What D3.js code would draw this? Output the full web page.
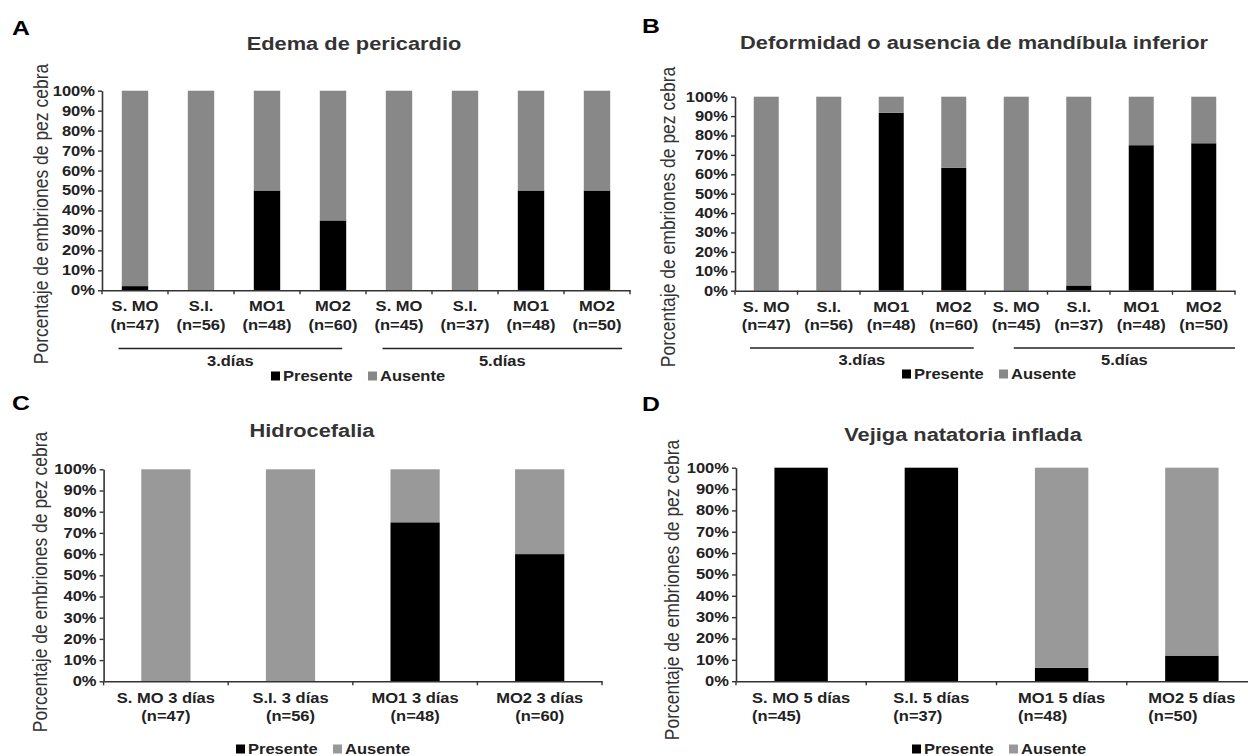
<!DOCTYPE html>
<html>
<head>
<meta charset="utf-8">
<script src="https://cdn.jsdelivr.net/npm/d3@7"></script>
<style>
body { margin: 0; background: #fff; }
svg { display: block; font-family: "Liberation Sans", Arial, sans-serif; }
</style>
</head>
<body>
<div id="chart"></div>
<script>
// ---- data (percent of embryos) ----
const catsAB = ["S. MO", "S.I.", "MO1", "MO2", "S. MO", "S.I.", "MO1", "MO2"];
const nA = [47, 56, 48, 60, 45, 37, 48, 50];
const nB = [47, 56, 48, 60, 45, 37, 48, 50];
const presenteA = [2.1, 0, 50, 35, 0, 0, 50, 50];
const presenteB = [0, 0, 91.7, 63.3, 0, 2.7, 75, 76];

const catsC = ["S. MO 3 días", "S.I. 3 días", "MO1 3 días", "MO2 3 días"];
const nC = [47, 56, 48, 60];
const presenteC = [0, 0, 75, 60];

const catsD = ["S. MO 5 días", "S.I. 5 días", "MO1 5 días", "MO2 5 días"];
const nD = [45, 37, 48, 50];
const presenteD = [100, 100, 6.3, 12];

const dayGroups = ["3.días", "5.días"];
const seriesKeys = ["Presente", "Ausente"];
const yTicks = [0, 10, 20, 30, 40, 50, 60, 70, 80, 90, 100];
const yLabel = "Porcentaje de embriones de pez cebra";

// the original figure is stretched horizontally, so text is too
const SX = 1.18;

const panels = [
    {letter: "A", lx: 12, ly: 35, title: "Edema de pericardio", tx: 354, ty: 49.5,
     x0: 102, x1: 630, yTop: 90.7, yBot: 290.3, barRatio: 0.4, gray: "#888888",
     cats: catsAB, n: nA, pres: presenteA, ylx: 41, yly: 214,
     lab1: 311, lab2: 330, nLeft: false,
     days: [[0.25, 3.64], [4.25, 7.88]], dayLineY: 348.5, dayTextY: 365.5,
     legX: 271, legY: 376},
    {letter: "B", lx: 642, ly: 33, title: "Deformidad o ausencia de mandíbula inferior", tx: 974, ty: 49,
     x0: 735, x1: 1235, yTop: 96.7, yBot: 290.7, barRatio: 0.4, gray: "#888888",
     cats: catsAB, n: nB, pres: presenteB, ylx: 668, yly: 217,
     lab1: 312, lab2: 330, nLeft: false,
     days: [[0.24, 3.82], [4.46, 8.0]], dayLineY: 348, dayTextY: 365,
     legX: 902, legY: 374},
    {letter: "C", lx: 12, ly: 410, title: "Hidrocefalia", tx: 312, ty: 437,
     x0: 103.6, x1: 602, yTop: 469.3, yBot: 681.3, barRatio: 0.395, gray: "#999999",
     cats: catsC, n: nC, pres: presenteC, ylx: 40, yly: 582,
     lab1: 703, lab2: 720.5, nLeft: false,
     days: null, legX: 236, legY: 749},
    {letter: "D", lx: 642, ly: 411, title: "Vejiga natatoria inflada", tx: 963, ty: 441,
     x0: 736, x1: 1257, yTop: 467.7, yBot: 681.2, barRatio: 0.41, gray: "#999999",
     cats: catsD, n: nD, pres: presenteD, ylx: 672, yly: 590,
     lab1: 703, lab2: 720.5, nLeft: true,
     days: null, legX: 912, legY: 749}
];

const svg = d3.select("#chart")
    .append("svg")
    .attr("width", 1248)
    .attr("height", 756);

// text helper, stretched horizontally
function txt(g, x, y, s, size, weight, anchor) {
    return g.append("text")
        .attr("transform", "translate(" + x + "," + y + ") scale(" + SX + ",1)")
        .attr("text-anchor", anchor || "middle")
        .attr("font-size", size)
        .attr("font-weight", weight || "bold")
        .attr("fill", "#222")
        .text(s);
}

panels.forEach(function(p) {
    const g = svg.append("g");

    const x = d3.scaleBand()
        .domain(d3.range(p.cats.length))
        .range([p.x0, p.x1])
        .padding(0);
    const y = d3.scaleLinear()
        .domain([0, 100])
        .range([p.yBot, p.yTop]);
    const color = d3.scaleOrdinal()
        .domain(seriesKeys)
        .range(["#000000", p.gray]);

    const rows = p.pres.map(function(v, i) {
        return {i: i, Presente: v, Ausente: 100 - v};
    });
    const stacked = d3.stack().keys(seriesKeys)(rows);

    const bw = x.bandwidth() * p.barRatio;

    g.selectAll("g.series")
        .data(stacked)
        .enter().append("g")
        .attr("class", "series")
        .attr("fill", function(d) { return color(d.key); })
        .selectAll("rect")
        .data(function(d) { return d; })
        .enter().append("rect")
        .attr("x", function(d) { return x(d.data.i) + (x.bandwidth() - bw) / 2; })
        .attr("width", bw)
        .attr("y", function(d) { return y(d[1]); })
        .attr("height", function(d) { return y(d[0]) - y(d[1]); });

    // y axis
    const yAxis = g.append("g")
        .attr("transform", "translate(" + p.x0 + ",0)")
        .call(d3.axisLeft(y)
            .tickValues(yTicks)
            .tickFormat(function(d) { return d + "%"; })
            .tickSize(4)
            .tickSizeOuter(0)
            .tickPadding(2));
    yAxis.select(".domain").attr("stroke", "#333").attr("stroke-width", 1.6);
    yAxis.selectAll(".tick line").attr("stroke", "#333").attr("stroke-width", 1.4);
    yAxis.selectAll(".tick text")
        .attr("font-size", 14)
        .attr("font-weight", "bold")
        .attr("font-family", "Liberation Sans, Arial, sans-serif")
        .attr("fill", "#222")
        .attr("transform", "scale(" + SX + ",1)");

    // x axis: plain line, ticks on band edges
    const xAxis = g.append("g")
        .attr("transform", "translate(0," + p.yBot + ")")
        .call(d3.axisBottom(x).tickSize(0).tickSizeOuter(0).tickFormat(""));
    xAxis.select(".domain").attr("stroke", "#333").attr("stroke-width", 1.6);
    xAxis.selectAll(".tick").remove();
    const edges = d3.range(p.cats.length + 1).map(function(i) { return p.x0 + i * x.step(); });
    xAxis.selectAll("line.edge")
        .data(edges)
        .enter().append("line")
        .attr("class", "edge")
        .attr("x1", function(d) { return d; })
        .attr("x2", function(d) { return d; })
        .attr("y1", 0)
        .attr("y2", 4)
        .attr("stroke", "#333")
        .attr("stroke-width", 1.4);

    // category labels
    p.cats.forEach(function(c, i) {
        const cx = x(i) + x.bandwidth() / 2;
        const t1 = txt(g, cx, p.lab1, c, 14, "bold");
        const nText = "(n=" + p.n[i] + ")";
        if (p.nLeft) {
            const w = t1.node().getComputedTextLength() * SX;
            txt(g, cx - w / 2, p.lab2, nText, 14, "bold", "start");
        } else {
            txt(g, cx, p.lab2, nText, 14, "bold");
        }
    });

    // day group lines
    if (p.days) {
        p.days.forEach(function(d, k) {
            const a = p.x0 + d[0] * x.step();
            const b = p.x0 + d[1] * x.step();
            g.append("line")
                .attr("x1", a).attr("x2", b)
                .attr("y1", p.dayLineY).attr("y2", p.dayLineY)
                .attr("stroke", "#222")
                .attr("stroke-width", 1.6);
            txt(g, (a + b) / 2, p.dayTextY, dayGroups[k], 14, "bold");
        });
    }

    // legend
    seriesKeys.forEach(function(k, i) {
        const lx = p.legX + i * 97;
        g.append("rect")
            .attr("x", lx)
            .attr("y", p.legY - 4.5)
            .attr("width", 9)
            .attr("height", 9)
            .attr("fill", color(k));
        txt(g, lx + 12, p.legY + 5, k, 14, "bold", "start");
    });

    // y label
    g.append("text")
        .attr("transform", "translate(" + p.ylx + "," + p.yly + ") scale(" + SX + ",1) rotate(-90)")
        .attr("text-anchor", "middle")
        .attr("dy", "0.35em")
        .attr("font-size", 17.5)
        .attr("fill", "#333")
        .text(yLabel);

    // title and panel letter
    txt(g, p.tx, p.ty, p.title, 18.5, "bold").attr("fill", "#333");
    txt(g, p.lx, p.ly, p.letter, 21, "bold", "start").attr("fill", "#000");
});
</script>
</body>
</html>
